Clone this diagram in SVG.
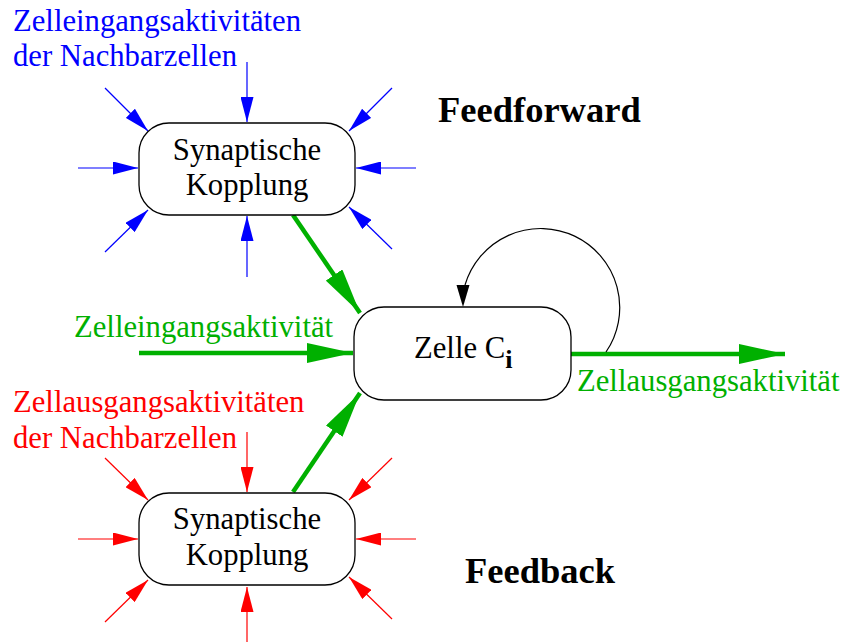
<svg xmlns="http://www.w3.org/2000/svg" width="841" height="643" viewBox="0 0 841 643">
<style>
text{font-size:30.7px}
.box{fill:#fff;stroke:#000;stroke-width:1.3}
.b{stroke:#0000ff;stroke-width:1.2;fill:none}
.r{stroke:#ff0000;stroke-width:1.2;fill:none}
.g{stroke:#00b000;stroke-width:4.5;fill:none}
.k{stroke:#000;stroke-width:1.2;fill:none}
.bt{fill:#0000ff}.rt{fill:#ff0000}.gt{fill:#00b000}
.hd{font-weight:bold;font-size:36.5px}
</style>
<defs>
<marker id="ab" markerUnits="userSpaceOnUse" markerWidth="25" markerHeight="13" viewBox="0 0 25 13" refX="25" refY="6.5" orient="auto"><path d="M0,0L25,6.5L0,13z" fill="#0000ff"/></marker>
<marker id="ar" markerUnits="userSpaceOnUse" markerWidth="25" markerHeight="13" viewBox="0 0 25 13" refX="25" refY="6.5" orient="auto"><path d="M0,0L25,6.5L0,13z" fill="#ff0000"/></marker>
<marker id="ag" markerUnits="userSpaceOnUse" markerWidth="46" markerHeight="20" viewBox="0 0 46 20" refX="46" refY="10" orient="auto"><path d="M0,0L46,10L0,20z" fill="#00b000"/></marker>
</defs>
<g id="connectors">
<g id="ff-inputs">
<line class="b" x1="247" y1="62" x2="247" y2="122" marker-end="url(#ab)"/>
<line class="b" x1="247" y1="277" x2="247" y2="216" marker-end="url(#ab)"/>
<line class="b" x1="78" y1="168" x2="138" y2="168" marker-end="url(#ab)"/>
<line class="b" x1="416" y1="168" x2="356" y2="168" marker-end="url(#ab)"/>
<line class="b" x1="105" y1="88" x2="148" y2="131" marker-end="url(#ab)"/>
<line class="b" x1="392" y1="88" x2="349" y2="131" marker-end="url(#ab)"/>
<line class="b" x1="105" y1="252" x2="148" y2="210" marker-end="url(#ab)"/>
<line class="b" x1="392" y1="249" x2="349" y2="207" marker-end="url(#ab)"/>
</g>
<g id="fb-inputs">
<line class="r" x1="247" y1="432" x2="247" y2="492" marker-end="url(#ar)"/>
<line class="r" x1="247" y1="642" x2="247" y2="587" marker-end="url(#ar)"/>
<line class="r" x1="78" y1="539" x2="138" y2="539" marker-end="url(#ar)"/>
<line class="r" x1="416" y1="539" x2="356" y2="539" marker-end="url(#ar)"/>
<line class="r" x1="105" y1="458" x2="148" y2="500" marker-end="url(#ar)"/>
<line class="r" x1="392" y1="458" x2="349" y2="500" marker-end="url(#ar)"/>
<line class="r" x1="105" y1="622" x2="148" y2="580" marker-end="url(#ar)"/>
<line class="r" x1="392" y1="619" x2="349" y2="577" marker-end="url(#ar)"/>
</g>
<line class="g" x1="293" y1="215" x2="360" y2="313" marker-end="url(#ag)"/>
<line class="g" x1="293" y1="492" x2="360" y2="393" marker-end="url(#ag)"/>
<line class="g" x1="139" y1="353" x2="353" y2="353" marker-end="url(#ag)"/>
<line class="g" x1="571" y1="354" x2="785" y2="354" marker-end="url(#ag)"/>
<path class="k" d="M606,352 A79,79 0 1 0 465,285"/>
<path d="M456.5,285L469.5,285L463,307z" fill="#000"/>
</g>
<g font-family="'Liberation Serif', 'Times New Roman', Times, 'DejaVu Serif', serif">
<g id="syn-ff">
<rect class="box" x="139" y="123" width="216" height="92" rx="30"/>
<text x="247" y="160" text-anchor="middle">Synaptische</text>
<text x="247" y="195" text-anchor="middle">Kopplung</text>
</g>
<g id="syn-fb">
<rect class="box" x="139" y="493" width="216" height="92" rx="30"/>
<text x="247" y="529" text-anchor="middle">Synaptische</text>
<text x="247" y="565" text-anchor="middle">Kopplung</text>
</g>
<g id="zelle">
<rect class="box" x="354" y="307" width="217" height="93" rx="30"/>
<text x="414" y="358">Zelle C<tspan font-weight="bold" font-size="26" dy="10">i</tspan></text>
</g>
<g id="labels">
<text class="bt" x="13" y="31">Zelleingangsaktivitäten</text>
<text class="bt" x="13" y="66">der Nachbarzellen</text>
<text class="rt" x="13" y="412">Zellausgangsaktivitäten</text>
<text class="rt" x="13" y="448">der Nachbarzellen</text>
<text class="gt" x="74" y="337">Zelleingangsaktivität</text>
<text class="gt" x="577" y="391">Zellausgangsaktivität</text>
<text class="hd" x="438" y="122">Feedforward</text>
<text class="hd" x="465" y="583">Feedback</text>
</g>
</g>
</svg>
